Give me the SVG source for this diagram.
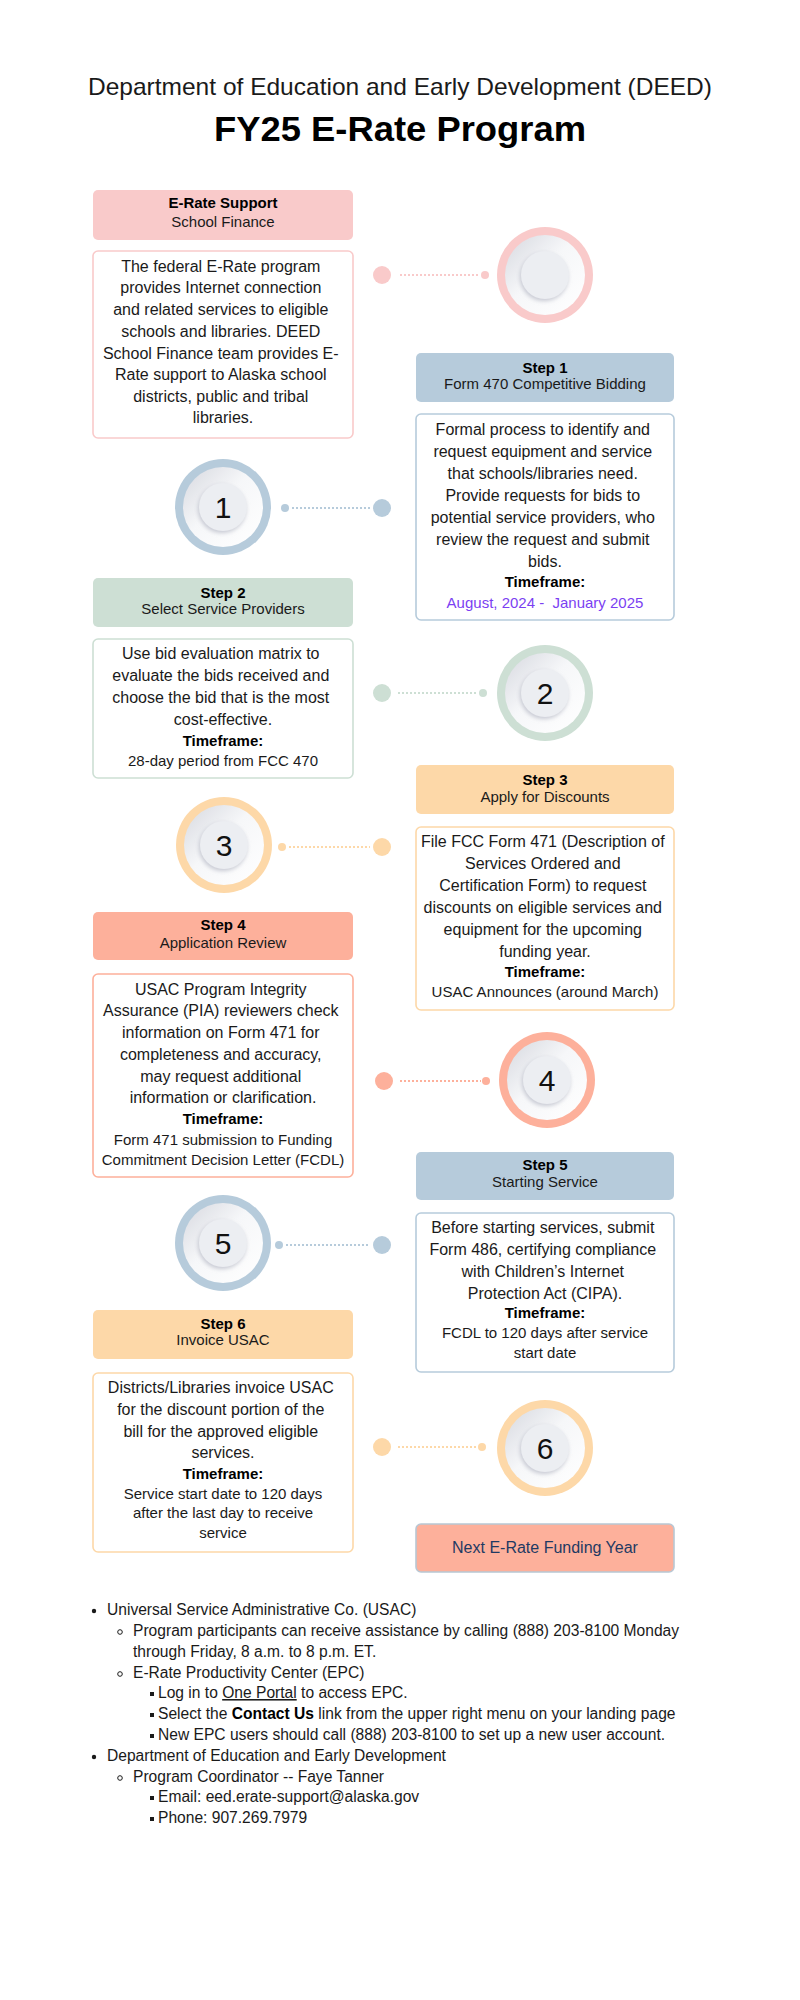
<svg xmlns="http://www.w3.org/2000/svg" width="800" height="2000" viewBox="0 0 800 2000">
<defs>
<style>
text{font-family:"Liberation Sans",Arial,sans-serif;fill:#1a1a1a}
.t1{font-size:24px;text-anchor:middle}
.t2{font-size:35px;font-weight:bold;text-anchor:middle;fill:#000}
.hd{font-size:15px;text-anchor:middle}
.hb{font-weight:bold;fill:#000}
.bd{font-size:16px;text-anchor:middle}
.tf{font-size:15px;text-anchor:middle}
.tb{font-weight:bold;fill:#000}
.num{font-size:30px;text-anchor:middle;fill:#111}
.li{font-size:15.6px}
.dot{stroke-width:2;stroke-dasharray:2 2;fill:none}
.pink{fill:#f9caca}.pinks{stroke:#f9caca}
.blue{fill:#b6cbdb}.blues{stroke:#b6cbdb}
.green{fill:#cddfd4}.greens{stroke:#cddfd4}
.orange{fill:#fdd8a8}.oranges{stroke:#fdd8a8}
.salmon{fill:#fdb09b}.salmons{stroke:#fdb09b}
.body{fill:#fff;stroke-width:1.6}
</style>
<linearGradient id="disk" x1="0" y1="0" x2="1" y2="1">
<stop offset="0" stop-color="#d6d8df"/>
<stop offset="0.45" stop-color="#f6f7f9"/>
<stop offset="1" stop-color="#ffffff"/>
</linearGradient>
<filter id="sh" x="-50%" y="-50%" width="200%" height="200%">
<feDropShadow dx="-1" dy="2" stdDeviation="2" flood-color="#b9bcc7" flood-opacity="0.8"/>
</filter>
<g id="knob">
<circle r="40" fill="url(#disk)"/>
<circle r="24" fill="#eceef2" filter="url(#sh)"/>
</g>
</defs>
<rect width="800" height="2000" fill="#fff"/>

<g id="title">
<text class="t1" x="400" y="95" textLength="624" lengthAdjust="spacingAndGlyphs">Department of Education and Early Development (DEED)</text>
<text class="t2" x="400" y="141" textLength="372" lengthAdjust="spacingAndGlyphs">FY25 E-Rate Program</text>
</g>

<g id="connectors">
<circle class="pink" cx="382" cy="275" r="9"/>
<line class="dot pinks" x1="400" y1="275" x2="480" y2="275"/>
<circle class="pink" cx="485" cy="275" r="4"/>

<circle class="blue" cx="285" cy="508" r="4"/>
<line class="dot blues" x1="292" y1="508" x2="370" y2="508"/>
<circle class="blue" cx="382" cy="508" r="9"/>

<circle class="green" cx="382" cy="693" r="9"/>
<line class="dot greens" x1="398" y1="693" x2="478" y2="693"/>
<circle class="green" cx="483" cy="693" r="4"/>

<circle class="orange" cx="282" cy="847" r="4"/>
<line class="dot oranges" x1="289" y1="847" x2="370" y2="847"/>
<circle class="orange" cx="382" cy="847" r="9"/>

<circle class="salmon" cx="384" cy="1081" r="9"/>
<line class="dot salmons" x1="400" y1="1081" x2="481" y2="1081"/>
<circle class="salmon" cx="486" cy="1081" r="4"/>

<circle class="blue" cx="279" cy="1245" r="4"/>
<line class="dot blues" x1="286" y1="1245" x2="370" y2="1245"/>
<circle class="blue" cx="382" cy="1245" r="9"/>

<circle class="orange" cx="382" cy="1447" r="9"/>
<line class="dot oranges" x1="398" y1="1447" x2="477" y2="1447"/>
<circle class="orange" cx="482" cy="1447" r="4"/>
</g>

<g id="circle0" transform="translate(545 275)"><circle class="pink" r="48"/><use href="#knob"/></g>
<g id="circle1" transform="translate(223 507)"><circle class="blue" r="48"/><use href="#knob"/><text class="num" y="11">1</text></g>
<g id="circle2" transform="translate(545 693)"><circle class="green" r="48"/><use href="#knob"/><text class="num" y="11">2</text></g>
<g id="circle3" transform="translate(224 845)"><circle class="orange" r="48"/><use href="#knob"/><text class="num" y="11">3</text></g>
<g id="circle4" transform="translate(547 1080)"><circle class="salmon" r="48"/><use href="#knob"/><text class="num" y="11">4</text></g>
<g id="circle5" transform="translate(223 1243)"><circle class="blue" r="48"/><use href="#knob"/><text class="num" y="11">5</text></g>
<g id="circle6" transform="translate(545 1448)"><circle class="orange" r="48"/><use href="#knob"/><text class="num" y="11">6</text></g>

<g id="support">
<rect class="pink" x="93" y="190" width="260" height="50" rx="5"/>
<text class="hd" x="223"><tspan class="hb" x="223" y="208">E-Rate Support</tspan><tspan x="223" y="227">School Finance</tspan></text>
<rect class="body pinks" x="93" y="251" width="260" height="187" rx="5"/>
<text class="bd">
<tspan x="223" y="272">The federal E-Rate program</tspan>
<tspan x="223" y="293">provides Internet connection</tspan>
<tspan x="223" y="315">and related services to eligible</tspan>
<tspan x="223" y="337">schools and libraries. DEED</tspan>
<tspan x="223" y="359">School Finance team provides E-</tspan>
<tspan x="223" y="380">Rate support to Alaska school</tspan>
<tspan x="223" y="402">districts, public and tribal</tspan>
<tspan x="223" y="423">libraries.</tspan>
</text>
</g>

<g id="step1">
<rect class="blue" x="416" y="353" width="258" height="49" rx="5"/>
<text class="hd"><tspan class="hb" x="545" y="373">Step 1</tspan><tspan x="545" y="389">Form 470 Competitive Bidding</tspan></text>
<rect class="body blues" x="416" y="414" width="258" height="206" rx="5"/>
<text class="bd">
<tspan x="545" y="435">Formal process to identify and</tspan>
<tspan x="545" y="457">request equipment and service</tspan>
<tspan x="545" y="479">that schools/libraries need.</tspan>
<tspan x="545" y="501">Provide requests for bids to</tspan>
<tspan x="545" y="523">potential service providers, who</tspan>
<tspan x="545" y="545">review the request and submit</tspan>
<tspan x="545" y="567">bids.</tspan>
</text>
<text class="tf"><tspan class="tb" x="545" y="587">Timeframe:</tspan><tspan x="545" y="608" style="fill:#7b3ff2">August, 2024 -&#160; January 2025</tspan></text>
</g>

<g id="step2">
<rect class="green" x="93" y="578" width="260" height="49" rx="5"/>
<text class="hd"><tspan class="hb" x="223" y="598">Step 2</tspan><tspan x="223" y="614">Select Service Providers</tspan></text>
<rect class="body greens" x="93" y="639" width="260" height="139" rx="5"/>
<text class="bd">
<tspan x="223" y="659">Use bid evaluation matrix to</tspan>
<tspan x="223" y="681">evaluate the bids received and</tspan>
<tspan x="223" y="703">choose the bid that is the most</tspan>
<tspan x="223" y="725">cost-effective.</tspan>
</text>
<text class="tf"><tspan class="tb" x="223" y="746">Timeframe:</tspan><tspan x="223" y="766">28-day period from FCC 470</tspan></text>
</g>

<g id="step3">
<rect class="orange" x="416" y="765" width="258" height="49" rx="5"/>
<text class="hd"><tspan class="hb" x="545" y="785">Step 3</tspan><tspan x="545" y="802">Apply for Discounts</tspan></text>
<rect class="body oranges" x="416" y="827" width="258" height="183" rx="5"/>
<text class="bd">
<tspan x="545" y="847">File FCC Form 471 (Description of</tspan>
<tspan x="545" y="869">Services Ordered and</tspan>
<tspan x="545" y="891">Certification Form) to request</tspan>
<tspan x="545" y="913">discounts on eligible services and</tspan>
<tspan x="545" y="935">equipment for the upcoming</tspan>
<tspan x="545" y="957">funding year.</tspan>
</text>
<text class="tf"><tspan class="tb" x="545" y="977">Timeframe:</tspan><tspan x="545" y="997">USAC Announces (around March)</tspan></text>
</g>

<g id="step4">
<rect class="salmon" x="93" y="912" width="260" height="48" rx="5"/>
<text class="hd"><tspan class="hb" x="223" y="930">Step 4</tspan><tspan x="223" y="948">Application Review</tspan></text>
<rect class="body salmons" x="93" y="974" width="260" height="203" rx="5"/>
<text class="bd">
<tspan x="223" y="995">USAC Program Integrity</tspan>
<tspan x="223" y="1016">Assurance (PIA) reviewers check</tspan>
<tspan x="223" y="1038">information on Form 471 for</tspan>
<tspan x="223" y="1060">completeness and accuracy,</tspan>
<tspan x="223" y="1082">may request additional</tspan>
<tspan x="223" y="1103">information or clarification.</tspan>
</text>
<text class="tf"><tspan class="tb" x="223" y="1124">Timeframe:</tspan><tspan x="223" y="1145">Form 471 submission to Funding</tspan><tspan x="223" y="1165">Commitment Decision Letter (FCDL)</tspan></text>
</g>

<g id="step5">
<rect class="blue" x="416" y="1152" width="258" height="48" rx="5"/>
<text class="hd"><tspan class="hb" x="545" y="1170">Step 5</tspan><tspan x="545" y="1187">Starting Service</tspan></text>
<rect class="body blues" x="416" y="1213" width="258" height="159" rx="5"/>
<text class="bd">
<tspan x="545" y="1233">Before starting services, submit</tspan>
<tspan x="545" y="1255">Form 486, certifying compliance</tspan>
<tspan x="545" y="1277">with Children’s Internet</tspan>
<tspan x="545" y="1299">Protection Act (CIPA).</tspan>
</text>
<text class="tf"><tspan class="tb" x="545" y="1318">Timeframe:</tspan><tspan x="545" y="1338">FCDL to 120 days after service</tspan><tspan x="545" y="1358">start date</tspan></text>
</g>

<g id="step6">
<rect class="orange" x="93" y="1310" width="260" height="49" rx="5"/>
<text class="hd"><tspan class="hb" x="223" y="1329">Step 6</tspan><tspan x="223" y="1345">Invoice USAC</tspan></text>
<rect class="body oranges" x="93" y="1373" width="260" height="179" rx="5"/>
<text class="bd">
<tspan x="223" y="1393">Districts/Libraries invoice USAC</tspan>
<tspan x="223" y="1415">for the discount portion of the</tspan>
<tspan x="223" y="1437">bill for the approved eligible</tspan>
<tspan x="223" y="1458">services.</tspan>
</text>
<text class="tf"><tspan class="tb" x="223" y="1479">Timeframe:</tspan><tspan x="223" y="1499">Service start date to 120 days</tspan><tspan x="223" y="1518">after the last day to receive</tspan><tspan x="223" y="1538">service</tspan></text>
</g>

<g id="next">
<rect x="416" y="1524" width="258" height="48" rx="5" fill="#fdb09b" stroke="#b8c7d4" stroke-width="1.6"/>
<text class="bd" x="545" y="1553" style="fill:#1f3a63">Next E-Rate Funding Year</text>
</g>

<g id="contacts">
<circle cx="94" cy="1611" r="2.2" fill="#1a1a1a"/>
<text class="li" x="107" y="1615">Universal Service Administrative Co. (USAC)</text>
<circle cx="120" cy="1632" r="2.3" fill="none" stroke="#1a1a1a" stroke-width="1"/>
<text class="li" x="133" y="1636">Program participants can receive assistance by calling (888) 203-8100 Monday</text>
<text class="li" x="133" y="1657">through Friday, 8 a.m. to 8 p.m. ET.</text>
<circle cx="120" cy="1674" r="2.3" fill="none" stroke="#1a1a1a" stroke-width="1"/>
<text class="li" x="133" y="1678">E-Rate Productivity Center (EPC)</text>
<rect x="150" y="1692" width="4" height="4" fill="#1a1a1a"/>
<text class="li" x="158" y="1698">Log in to <tspan text-decoration="underline">One Portal</tspan> to access EPC.</text>
<rect x="150" y="1713" width="4" height="4" fill="#1a1a1a"/>
<text class="li" x="158" y="1719">Select the <tspan font-weight="bold" fill="#000">Contact Us</tspan> link from the upper right menu on your landing page</text>
<rect x="150" y="1734" width="4" height="4" fill="#1a1a1a"/>
<text class="li" x="158" y="1740">New EPC users should call (888) 203-8100 to set up a new user account.</text>
<circle cx="94" cy="1757" r="2.2" fill="#1a1a1a"/>
<text class="li" x="107" y="1761">Department of Education and Early Development</text>
<circle cx="120" cy="1778" r="2.3" fill="none" stroke="#1a1a1a" stroke-width="1"/>
<text class="li" x="133" y="1782">Program Coordinator -- Faye Tanner</text>
<rect x="150" y="1796" width="4" height="4" fill="#1a1a1a"/>
<text class="li" x="158" y="1802">Email: eed.erate-support@alaska.gov</text>
<rect x="150" y="1817" width="4" height="4" fill="#1a1a1a"/>
<text class="li" x="158" y="1823">Phone: 907.269.7979</text>
</g>
</svg>
